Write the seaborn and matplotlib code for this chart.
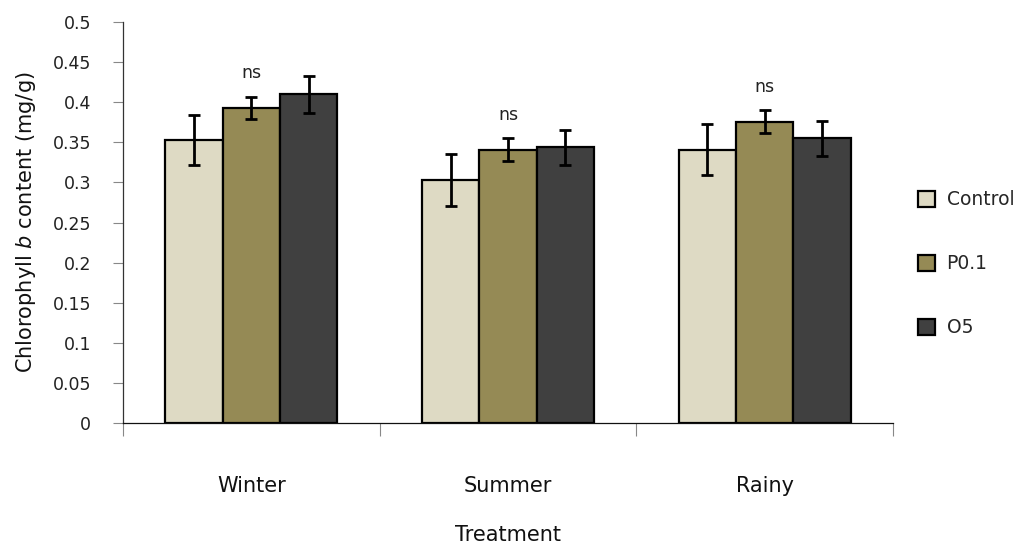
import matplotlib
matplotlib.use('Agg')
import matplotlib.pyplot as plt
import seaborn as sns
import pandas as pd

seasons = ['Winter', 'Summer', 'Rainy']
treatments = ['Control', 'P0.1', 'O5']
# mean chlorophyll b content (mg/g), rows = season, cols = treatment
means = [
    [0.353, 0.393, 0.410],
    [0.303, 0.341, 0.344],
    [0.341, 0.376, 0.355],
]
errors = [
    [0.031, 0.014, 0.023],
    [0.032, 0.014, 0.022],
    [0.032, 0.014, 0.022],
]
sig_labels = ['ns', 'ns', 'ns']
colors = ['#dedac4', '#958a55', '#404040']

sns.set_style('white')
plt.rcParams['font.family'] = ['DejaVu Sans']
plt.rcParams['mathtext.fontset'] = 'dejavusans'

rows = []
for i, s in enumerate(seasons):
    for j, t in enumerate(treatments):
        rows.append({'Season': s, 'Treatment': t,
                     'Value': means[i][j], 'Err': errors[i][j]})
df = pd.DataFrame(rows)

fig = plt.figure(figsize=(10.21, 5.52), dpi=100)
ax = fig.add_axes([0.1205, 0.2337, 0.7541, 0.7263])

sns.barplot(data=df, x='Season', y='Value', hue='Treatment',
            order=seasons, hue_order=treatments, palette=colors,
            saturation=1, width=0.67, errorbar=None, edgecolor='black',
            linewidth=1.6, ax=ax, legend=True)

# error bars and significance labels from bar positions
bar_groups = list(ax.containers)
for j, cont in enumerate(bar_groups):
    for i, bar in enumerate(cont.patches):
        cx = bar.get_x() + bar.get_width() / 2
        ax.errorbar(cx, means[i][j], yerr=errors[i][j], fmt='none',
                    ecolor='black', elinewidth=2, capsize=4.5,
                    capthick=2, zorder=5)
for i in range(len(seasons)):
    mid = bar_groups[1].patches[i]
    cx = mid.get_x() + mid.get_width() / 2
    top = means[i][1] + errors[i][1]
    ax.text(cx, top + 0.018, sig_labels[i], ha='center', va='bottom',
            fontsize=12.5, color='#222222')

ax.set_ylim(0, 0.5)
ax.set_xlim(-0.5, 2.5)
ax.set_yticks([k * 0.05 for k in range(11)])
ax.set_yticklabels(['0', '0.05', '0.1', '0.15', '0.2', '0.25', '0.3',
                    '0.35', '0.4', '0.45', '0.5'])
ax.tick_params(axis='y', direction='out', length=7, width=0.8,
               color='#888888', labelsize=12.5, labelcolor='#222222',
               pad=16, left=True)

ax.set_xticks([-0.5, 0.5, 1.5, 2.5])
ax.set_xticklabels([])
ax.tick_params(axis='x', which='major', direction='out', length=9,
               width=0.8, color='#888888', bottom=True)
ax.set_xticks([0, 1, 2], minor=True)
ax.set_xticklabels(seasons, minor=True)
ax.tick_params(axis='x', which='minor', length=0, pad=38, labelsize=15,
               labelcolor='#111111')

for sp in ['top', 'right']:
    ax.spines[sp].set_visible(False)
ax.spines['left'].set_color('#333333')
ax.spines['bottom'].set_color('#111111')
ax.spines['left'].set_linewidth(0.9)
ax.spines['bottom'].set_linewidth(0.9)

ax.set_xlabel('Treatment', fontsize=15, color='#111111')
ax.xaxis.set_label_coords(0.5, -0.255)
ax.set_ylabel('Chlorophyll $\\mathit{b}$ content (mg/g)', fontsize=15,
              color='#111111')
ax.yaxis.set_label_coords(-0.11, 0.5)

handles, labels = ax.get_legend_handles_labels()
ax.get_legend().remove()
fig.legend(handles, labels, loc='center left',
           bbox_to_anchor=(0.883, 0.522), frameon=False, fontsize=13.5,
           labelspacing=2.4, handlelength=0.9, handleheight=0.9,
           handletextpad=0.6)

plt.savefig('out.png', dpi=100)
